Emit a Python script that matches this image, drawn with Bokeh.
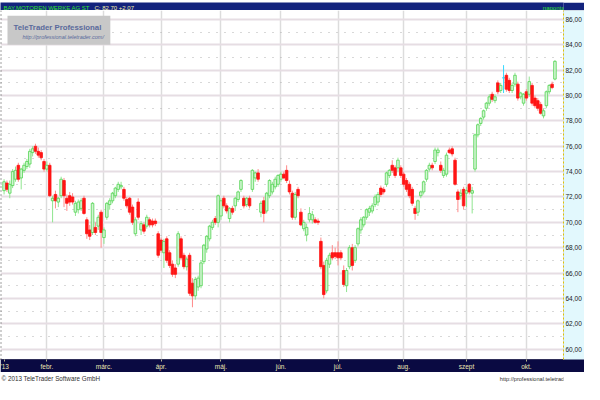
from bokeh.plotting import figure
from bokeh.models import FixedTicker, Label, ColumnDataSource, Range1d, Span
from bokeh.layouts import column
from bokeh.embed import file_html
from bokeh.resources import INLINE

# ---------------- data ----------------
symbol = "BAY.MOTOREN WERKE AG ST"
interval = "naponta"
brand = "TeleTrader Professional"
brand_url = "http://professional.teletrader.com/"
copyright_text = "\u00a9 2013 TeleTrader Software GmbH"

opens = [72.5, 73.1, 72.3, 72.9, 73.4, 74.5, 73.5, 74.1, 74.4, 74.6, 75.5, 76.0, 75.6, 75.5, 74.8, 74.2,
         74.5, 71.7, 72.2, 71.6, 72.1, 73.3, 71.9, 72.1, 72.0, 70.8, 71.0, 71.1, 71.9, 70.2, 69.4, 69.2,
         69.6, 69.7, 70.8, 68.8, 70.4, 71.4, 71.7, 72.1, 72.6, 72.8, 72.6, 71.8, 71.9, 71.2, 69.1, 71.6,
         69.4, 69.8, 69.7, 70.2, 70.1, 70.1, 69.1, 68.6, 67.6, 68.7, 67.6, 66.7, 66.4, 66.7, 68.7, 67.4,
         66.5, 67.4, 65.2, 64.2, 64.9, 65.0, 66.9, 67.9, 68.7, 69.6, 70.3, 70.0, 70.5, 71.9, 71.3, 70.3,
         71.1, 71.3, 71.8, 72.6, 71.9, 71.4, 71.9, 72.6, 73.5, 73.9, 70.8, 71.7, 70.9, 72.1, 72.4, 72.8,
         73.0, 73.4, 73.8, 74.1, 73.0, 72.3, 70.4, 72.6, 70.8, 69.5, 69.0, 70.2, 70.2, 70.2, 70.1, 68.5,
         66.6, 64.6, 66.7, 67.6, 67.6, 67.6, 67.6, 66.2, 65.0, 66.5, 68.0, 67.0, 68.3, 69.4, 69.8, 70.4,
         70.8, 70.9, 71.4, 71.6, 72.7, 72.6, 73.0, 73.7, 74.5, 74.3, 74.3, 74.3, 73.8, 73.3, 73.0, 72.6,
         71.1, 70.8, 72.1, 72.4, 73.4, 74.2, 74.5, 74.8, 75.5, 74.5, 73.7, 73.8, 75.7, 75.8, 74.9, 72.4,
         72.1, 72.6, 72.3, 73.0, 72.3, 74.2, 76.9, 77.8, 78.3, 79.0, 79.4, 80.1, 79.6, 81.0, 80.4, 81.4,
         81.6, 81.2, 80.4, 80.9, 80.9, 79.9, 79.4, 80.3, 80.1, 80.8, 79.8, 79.6, 79.3, 78.4, 79.2, 80.3,
         80.9, 81.3]
highs = [73.4, 73.3, 73.3, 74.2, 74.4, 74.7, 74.3, 74.7, 75.0, 75.8, 76.0, 76.2, 75.9, 75.7, 75.0, 74.8,
         74.7, 72.1, 72.5, 72.0, 73.6, 73.5, 72.2, 72.4, 72.3, 71.7, 71.8, 71.9, 72.1, 70.4, 69.8, 71.6,
         70.0, 70.6, 71.0, 69.6, 71.6, 71.9, 72.4, 72.8, 73.2, 73.2, 72.8, 72.0, 72.0, 71.4, 70.4, 71.9,
         70.1, 70.0, 70.6, 70.4, 70.3, 70.3, 69.3, 68.8, 68.7, 68.9, 67.8, 67.0, 66.7, 69.3, 68.9, 67.6,
         67.3, 67.6, 65.6, 65.7, 65.8, 67.0, 68.3, 69.0, 69.8, 70.2, 70.5, 72.2, 71.9, 72.1, 71.5, 71.2,
         71.3, 72.0, 72.5, 73.4, 72.1, 72.0, 72.1, 74.2, 74.0, 74.2, 71.7, 72.0, 72.4, 73.4, 73.2, 73.6,
         73.8, 74.0, 74.0, 74.5, 73.3, 72.5, 72.4, 72.8, 71.1, 70.2, 69.9, 71.2, 70.9, 70.4, 70.3, 68.8,
         66.9, 67.2, 67.6, 68.2, 68.0, 68.5, 67.8, 66.6, 66.4, 68.2, 68.3, 68.2, 69.6, 70.4, 70.5, 71.1,
         71.3, 71.5, 72.2, 72.4, 72.9, 72.8, 74.0, 74.2, 74.9, 74.5, 75.1, 74.5, 74.0, 73.5, 73.2, 72.8,
         71.3, 71.8, 72.5, 73.3, 74.2, 74.7, 74.7, 75.9, 75.9, 74.8, 74.3, 75.5, 75.9, 76.0, 75.1, 72.6,
         72.6, 72.8, 72.8, 73.1, 72.8, 77.0, 77.8, 78.3, 78.9, 79.5, 80.1, 80.3, 80.1, 81.2, 81.0, 82.4,
         81.8, 81.4, 81.0, 81.8, 81.1, 80.3, 80.2, 80.5, 81.5, 81.0, 80.0, 79.8, 79.5, 79.0, 80.4, 80.9,
         81.1, 82.8]
lows = [72.2, 72.4, 71.9, 72.7, 73.2, 73.2, 72.6, 73.9, 74.2, 74.3, 75.2, 75.4, 75.1, 74.9, 74.0, 74.0,
        72.0, 70.0, 71.1, 71.2, 71.9, 71.2, 70.9, 71.3, 71.4, 70.5, 70.7, 70.9, 70.6, 68.7, 68.6, 69.0,
        69.0, 69.4, 68.0, 68.3, 70.2, 71.0, 71.5, 71.9, 72.4, 72.6, 71.7, 71.1, 70.6, 69.8, 68.9, 70.2,
        69.0, 69.1, 69.5, 69.6, 69.6, 69.7, 67.2, 67.6, 66.4, 66.8, 66.4, 65.7, 65.6, 66.5, 67.0, 66.3,
        66.2, 64.2, 63.3, 63.9, 64.6, 64.8, 66.7, 67.6, 68.5, 69.4, 69.8, 69.6, 70.2, 71.1, 70.7, 70.0,
        70.6, 70.9, 71.6, 72.4, 71.1, 71.2, 71.1, 72.4, 73.2, 73.2, 70.4, 70.0, 70.7, 71.9, 72.2, 72.6,
        72.8, 73.2, 73.4, 73.1, 72.2, 70.2, 70.2, 71.9, 69.7, 69.3, 68.5, 70.0, 69.9, 69.9, 69.8, 66.3,
        64.0, 64.4, 66.4, 67.0, 67.1, 66.6, 67.0, 64.9, 64.5, 66.3, 66.2, 66.8, 68.1, 69.1, 69.6, 70.2,
        70.5, 70.7, 71.2, 71.3, 72.0, 72.2, 72.8, 73.5, 73.9, 73.5, 74.0, 73.5, 72.8, 72.4, 71.9, 71.3,
        70.2, 70.5, 71.9, 72.2, 73.2, 74.0, 74.1, 74.6, 75.2, 73.9, 73.5, 73.6, 75.4, 75.2, 72.9, 70.8,
        71.8, 71.0, 71.2, 72.2, 70.7, 74.0, 76.7, 77.6, 78.1, 78.8, 79.2, 79.5, 79.4, 80.1, 80.2, 80.2,
        80.3, 80.2, 80.2, 80.7, 79.6, 79.7, 79.2, 79.6, 79.9, 79.2, 79.0, 78.8, 78.5, 78.2, 79.0, 80.1,
        80.5, 81.2]
closes = [73.2, 72.6, 73.0, 74.0, 74.1, 73.4, 74.2, 74.5, 74.8, 75.6, 75.8, 75.6, 75.3, 75.1, 74.2, 74.5,
          72.1, 71.9, 71.7, 71.9, 73.4, 72.1, 71.5, 71.6, 71.6, 71.5, 71.6, 71.7, 70.7, 69.1, 68.9, 71.5,
          69.2, 70.4, 69.2, 69.4, 71.5, 71.7, 72.3, 72.7, 73.0, 72.9, 71.9, 71.3, 70.8, 70.0, 70.2, 70.4,
          69.9, 69.3, 70.4, 69.8, 69.8, 69.9, 67.4, 67.8, 68.5, 67.0, 66.6, 65.9, 65.9, 69.1, 67.2, 66.5,
          67.1, 64.4, 64.2, 65.5, 65.6, 66.8, 68.2, 68.9, 69.7, 70.0, 70.0, 72.1, 71.7, 71.3, 70.9, 71.1,
          70.8, 71.9, 72.4, 73.3, 71.3, 71.9, 71.3, 74.1, 73.9, 73.4, 71.5, 70.7, 72.3, 73.3, 73.0, 73.4,
          73.7, 73.8, 73.5, 73.3, 72.4, 70.4, 72.2, 72.1, 69.8, 70.0, 69.6, 70.7, 70.6, 70.0, 70.0, 66.5,
          64.3, 67.0, 67.4, 67.2, 67.3, 67.2, 67.2, 65.1, 66.2, 68.0, 66.6, 68.0, 69.5, 70.2, 70.4, 71.0,
          71.1, 71.3, 72.0, 72.2, 72.2, 72.4, 73.9, 74.1, 74.1, 73.7, 74.9, 73.7, 73.0, 72.6, 72.1, 71.5,
          70.7, 71.7, 72.4, 73.2, 74.1, 74.5, 74.3, 75.7, 75.7, 74.1, 74.1, 75.3, 75.5, 75.4, 73.0, 71.8,
          72.3, 71.3, 72.5, 72.4, 72.5, 76.9, 77.7, 78.2, 78.8, 79.4, 79.9, 79.7, 79.9, 80.3, 80.8, 81.4,
          80.5, 80.4, 80.8, 81.6, 79.8, 80.2, 80.1, 79.8, 81.1, 79.4, 79.2, 79.0, 78.6, 78.8, 80.3, 80.8,
          80.63, 82.70]

month_ticks = [0, 15, 35, 55, 76, 97, 117, 140, 162, 183]
month_labels = ["'13", "febr.", "m\u00e1rc.", "\u00e1pr.", "m\u00e1j.", "j\u00fan.", "j\u00fal.", "aug.", "szept", "okt."]
price_ticks = list(range(60, 88, 2))
price_minor = list(range(59, 88, 2))

# ---------------- styling ----------------
FONT = "Liberation Sans"
W = 584
TITLE_H, FOOT_H = 10, 12
MAIN_H = 384 - TITLE_H - FOOT_H

UP_FILL, UP_LINE, UP_WICK = "#d2f5d2", "#52d452", "#8fe58f"
DN_FILL, DN_LINE, DN_WICK = "#ff1414", "#ff1414", "#ff8a8a"
EQ_COL = "#35d8ff"

def fmt(v):
    return f"{v:.2f}".replace(".", ",")

idx = list(range(len(closes)))
fills, lines, wicks, tops, bots = [], [], [], [], []
for o, c in zip(opens, closes):
    if c > o:
        fills.append(UP_FILL); lines.append(UP_LINE); wicks.append(UP_WICK)
    elif c < o:
        fills.append(DN_FILL); lines.append(DN_LINE); wicks.append(DN_WICK)
    else:
        fills.append(EQ_COL); lines.append(EQ_COL); wicks.append(EQ_COL)
    tops.append(max(o, c)); bots.append(min(o, c))

src = ColumnDataSource(dict(x=idx, o=opens, h=highs, l=lows, c=closes,
                            top=tops, bottom=bots, fill=fills, line=lines, wick=wicks))

# ---------------- title bar ----------------
tf = figure(width=W, height=TITLE_H, toolbar_location=None, output_backend="svg",
            x_axis_location=None, y_axis_location=None, min_border=0,
            x_range=Range1d(0, 1), y_range=Range1d(0, 1),
            background_fill_color="#13237d", border_fill_color="#13237d", outline_line_color=None)
tf.grid.visible = False
change = closes[-1] - closes[-2]
TB = dict(x_units="screen", y_units="screen", y=5, text_font=FONT, text_font_size="6px",
          text_baseline="middle")
tf.add_layout(Label(x=3, text=symbol, text_color="#2ee02e", **TB))
tf.add_layout(Label(x=94, text=f"C: {fmt(closes[-1])} {'+' if change >= 0 else '-'}{fmt(abs(change))}",
                    text_color="#f4f0a8", **TB))
tf.add_layout(Label(x=564, text=interval, text_color="#2ee02e", text_align="right", **TB))

# ---------------- main chart ----------------
p = figure(width=W, height=MAIN_H, toolbar_location=None, output_backend="svg",
           x_range=Range1d(-1.25, 196.0), y_range=Range1d(59.18, 86.71),
           y_axis_location="right",
           min_border_left=0, min_border_top=0, min_border_right=0, min_border_bottom=10,
           background_fill_color="white", border_fill_color="#0a0a42", outline_line_color=None)

xt = FixedTicker(ticks=month_ticks)
p.xaxis.ticker = xt
p.xaxis.major_label_overrides = {t: lab for t, lab in zip(month_ticks, month_labels)}
p.xaxis.major_label_text_color = "#ece6b4"
p.xaxis.major_label_text_font = FONT
p.xaxis.major_label_text_font_size = "6.5px"
p.xaxis.major_label_standoff = 1
p.xaxis.major_tick_in = 0
p.xaxis.major_tick_out = 2
p.xaxis.major_tick_line_color = "#b8b490"
p.xaxis.minor_tick_line_color = None
p.xaxis.axis_line_color = "#30305a"
p.xgrid.ticker = FixedTicker(ticks=month_ticks[1:])
p.xgrid.grid_line_color = "#dcdcdc"
p.xgrid.grid_line_width = 1.5

yt = FixedTicker(ticks=price_ticks, minor_ticks=price_minor)
p.yaxis.ticker = yt
p.yaxis.major_label_overrides = {t: fmt(t) for t in price_ticks}
p.yaxis.major_label_text_color = "#202020"
p.yaxis.major_label_text_font = FONT
p.yaxis.major_label_text_font_size = "6.5px"
p.yaxis.major_label_standoff = 2
p.yaxis.major_tick_in = 0
p.yaxis.major_tick_out = 0
p.yaxis.minor_tick_in = 0
p.yaxis.minor_tick_out = 0
p.yaxis.axis_line_color = "#e2c400"
p.yaxis.axis_line_dash = "2 2"
p.yaxis.background_fill_color = "#e2f8fd"
p.ygrid.ticker = yt
p.ygrid.grid_line_color = "#e6dde3"
p.ygrid.grid_line_width = 2
p.ygrid.minor_grid_line_color = "#b0b0b0"
p.ygrid.minor_grid_line_dash = "1 7"
p.ygrid.minor_grid_line_width = 1

p.add_layout(Span(location=p.x_range.start, dimension="height", line_color="#404040",
                  line_dash="1 3", line_width=2))

p.segment(x0="x", y0="l", x1="x", y1="h", line_color="wick", line_width=1, source=src)
p.vbar(x="x", width=0.9, top="top", bottom="bottom", fill_color="fill", line_color="line",
       line_width=0.8, source=src)

# watermark
p.add_layout(Label(x=7, y=86.3, x_units="screen", text=brand, text_color="#5a6a9c",
                   text_font=FONT, text_font_style="bold",
                   text_font_size="7.8px", text_baseline="top", text_align="left",
                   background_fill_color="#c8c8c8",
                   padding=dict(left=6, right=9, top=7, bottom=13)))
p.add_layout(Label(x=22, y=84.65, x_units="screen", text=brand_url, text_color="#5a6a9c",
                   text_font=FONT, text_font_style="italic", text_font_size="5.5px",
                   text_baseline="middle", text_align="left"))

# last price marker on the axis
p.add_layout(Label(x=p.x_range.end, y=closes[-1], text=fmt(closes[-1]), x_offset=1,
                   text_color="#101010", text_font=FONT, text_font_size="6.5px",
                   text_baseline="middle", text_align="left", background_fill_color="#ffff00"))

# ---------------- footer ----------------
ff = figure(width=W, height=FOOT_H, toolbar_location=None, output_backend="svg",
            x_axis_location=None, y_axis_location=None, min_border=0,
            x_range=Range1d(0, 1), y_range=Range1d(0, 1),
            background_fill_color="white", border_fill_color="white", outline_line_color=None)
ff.grid.visible = False
ff.add_layout(Label(x=1, y=6, x_units="screen", y_units="screen", text=copyright_text,
                    text_color="#303030", text_font=FONT, text_font_size="6.3px", text_baseline="middle"))
ff.add_layout(Label(x=582, y=6, x_units="screen", y_units="screen", text=brand_url,
                    text_color="#303030", text_font=FONT, text_font_size="5.6px",
                    text_baseline="middle", text_align="right"))

layout = column(tf, p, ff, spacing=0)
open("out.html", "w").write(file_html(layout, INLINE))
